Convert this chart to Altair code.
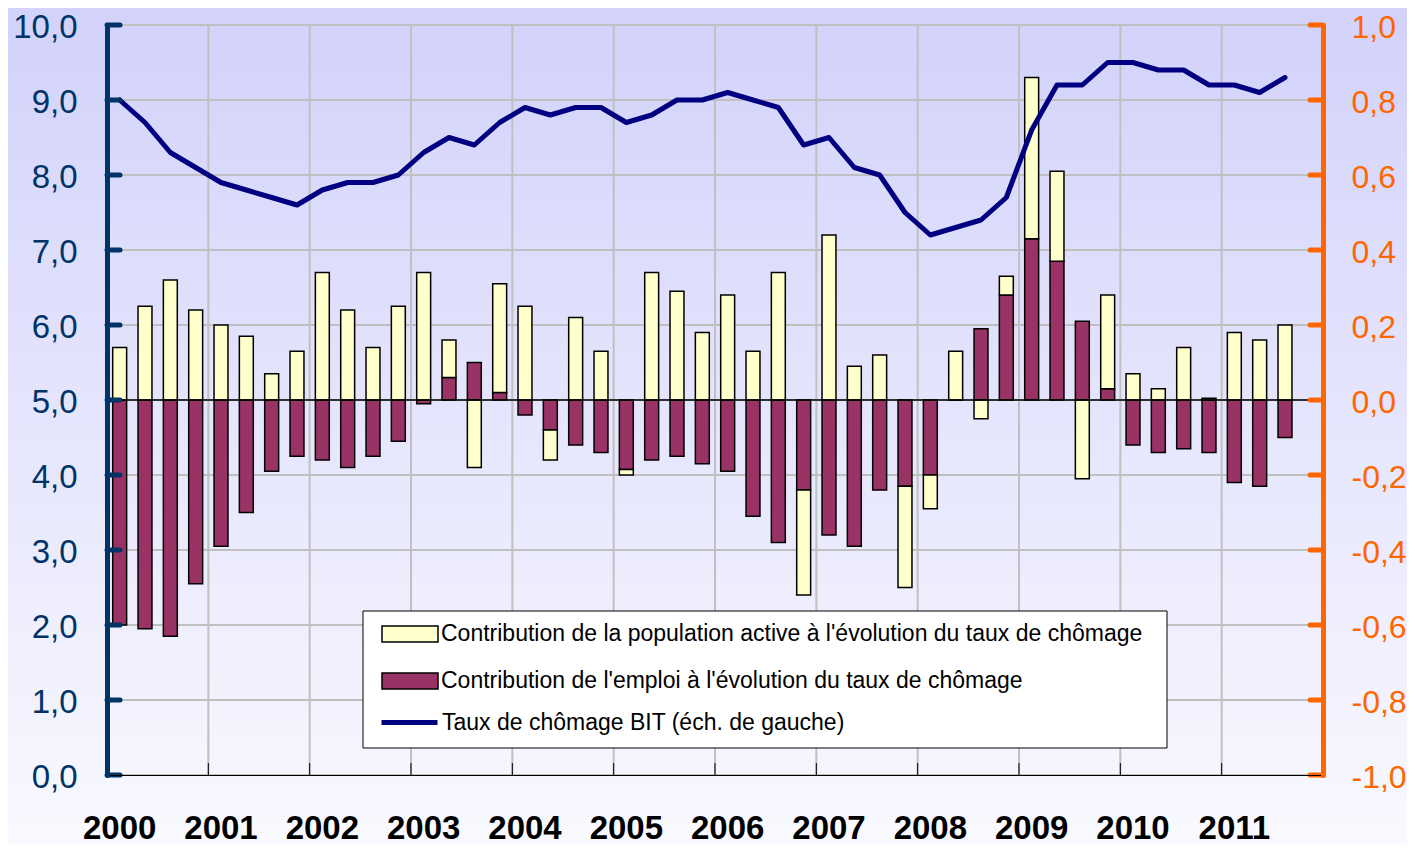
import altair as alt
import pandas as pd

# ---------------- data ----------------
years = list(range(2000, 2012))
quarter_slots = [f"{y}-T{q}" for y in years for q in (1, 2, 3, 4)]  # 48 slots (last one empty)
quarters = quarter_slots[:47]
year_starts = [f"{y}-T1" for y in years]

taux = [9.0, 8.7, 8.3, 8.1,
        7.9, 7.8, 7.7, 7.6,
        7.8, 7.9, 7.9, 8.0,
        8.3, 8.5, 8.4, 8.7,
        8.9, 8.8, 8.9, 8.9,
        8.7, 8.8, 9.0, 9.0,
        9.1, 9.0, 8.9, 8.4,
        8.5, 8.1, 8.0, 7.5,
        7.2, 7.3, 7.4, 7.7,
        8.6, 9.2, 9.2, 9.5,
        9.5, 9.4, 9.4, 9.2,
        9.2, 9.1, 9.3]

emploi = [-0.60, -0.61, -0.63, -0.49,
          -0.39, -0.30, -0.19, -0.15,
          -0.16, -0.18, -0.15, -0.11,
          -0.01, 0.06, 0.10, 0.02,
          -0.04, -0.08, -0.12, -0.14,
          -0.185, -0.16, -0.15, -0.17,
          -0.19, -0.31, -0.38, -0.24,
          -0.36, -0.39, -0.24, -0.23,
          -0.20, 0.00, 0.19, 0.28,
          0.43, 0.37, 0.21, 0.03,
          -0.12, -0.14, -0.13, -0.14,
          -0.22, -0.23, -0.10]

pop = [0.14, 0.25, 0.32, 0.24,
       0.20, 0.17, 0.07, 0.13,
       0.34, 0.24, 0.14, 0.25,
       0.34, 0.10, -0.18, 0.29,
       0.25, -0.08, 0.22, 0.13,
       -0.015, 0.34, 0.29, 0.18,
       0.28, 0.13, 0.34, -0.28,
       0.44, 0.09, 0.12, -0.27,
       -0.09, 0.13, -0.05, 0.05,
       0.43, 0.24, -0.21, 0.25,
       0.07, 0.03, 0.14, 0.005,
       0.18, 0.16, 0.20]

left_ticks = [0, 1, 2, 3, 4, 5, 6, 7, 8, 9, 10]
right_ticks = [-1.0, -0.8, -0.6, -0.4, -0.2, 0.0, 0.2, 0.4, 0.6, 0.8, 1.0]

LAB_POP = "Contribution de la population active à l'évolution du taux de chômage"
LAB_EMP = "Contribution de l'emploi à l'évolution du taux de chômage"
LAB_TAUX = "Taux de chômage BIT (éch. de gauche)"

# ---------------- layout / style ----------------
W, H = 1216, 750
PAD = {"left": 99, "right": 84, "top": 17, "bottom": 69}
ARIAL = "Liberation Sans, Arial, sans-serif"
NAVY_AX = "#003366"
ORANGE = "#FF6600"
GRID = "#C0C0C0"

df_bars = pd.DataFrame({
    "q": quarters * 2,
    "serie": [LAB_EMP] * len(quarters) + [LAB_POP] * len(quarters),
    "val": emploi + pop,
    "ordre": [0] * len(quarters) + [1] * len(quarters),
})
df_line = pd.DataFrame({"q": quarters, "taux": taux, "serie": [LAB_TAUX] * len(quarters)})
df_left = pd.DataFrame({"v": left_ticks})
df_right = pd.DataFrame({"v": right_ticks})
df_years = pd.DataFrame({"q": year_starts[1:]})
df_zero = pd.DataFrame({"z": [0.0]})
df_one = pd.DataFrame({"a": [0]})

x_scale = alt.Scale(domain=quarter_slots, paddingInner=0, paddingOuter=0)
y_left = alt.Scale(domain=[0, 10], nice=False, zero=False)
y_right = alt.Scale(domain=[-1, 1], nice=False, zero=False)
fill_scale = alt.Scale(domain=[LAB_POP, LAB_EMP], range=["#FFFFCC", "#993366"])
stroke_scale = alt.Scale(domain=[LAB_TAUX], range=["#000080"])

RECT = "M-1,-0.2857L1,-0.2857L1,0.2857L-1,0.2857Z"
legend_bars = alt.Legend(
    title=None, orient="none", legendX=274, legendY=580, direction="vertical",
    padding=0, rowPadding=6, labelOffset=2,
    labelFont=ARIAL, labelFontSize=23, labelColor="black", labelLimit=900,
    symbolType=RECT, symbolSize=3136, symbolStrokeColor="black", symbolStrokeWidth=1.5,
    zindex=1,
)
legend_line = alt.Legend(
    title=None, orient="none", legendX=272, legendY=667, direction="vertical",
    padding=0, labelOffset=2,
    labelFont=ARIAL, labelFontSize=23, labelColor="black", labelLimit=900,
    symbolType="stroke", symbolSize=3136, symbolStrokeWidth=5,
    zindex=1,
)

x_axis = alt.Axis(values=year_starts, labelExpr="substring(datum.value, 0, 4)",
                  grid=False, ticks=False, tickSize=0, domain=True, domainColor="black",
                  domainWidth=1, labelFont=ARIAL, labelFontSize=33, labelFontWeight="bold",
                  labelColor="black", labelPadding=63, labelBaseline="alphabetic",
                  labelAngle=0, title=None, zindex=1)

left_axis = alt.Axis(orient="left", values=left_ticks,
                     labelExpr="replace(format(datum.value, '.1f'), '.', ',')",
                     grid=False, ticks=False, tickSize=0, domainColor=NAVY_AX, domainWidth=5,
                     domainCap="round", labelFont=ARIAL, labelFontSize=33, labelOffset=2,
                     labelColor=NAVY_AX, labelPadding=30, title=None, zindex=1)

right_axis = alt.Axis(orient="right", values=right_ticks,
                      labelExpr="replace(replace(format(datum.value, '.1f'), '.', ','), '\u2212', '-')",
                      grid=False, ticks=False, tickSize=0, domainColor=ORANGE, domainWidth=5,
                      domainCap="round", labelFont=ARIAL, labelFontSize=32, labelOffset=2,
                      labelColor=ORANGE, labelPadding=28, title=None, zindex=1)


def X(**kw):
    return alt.X("q:N", scale=x_scale, axis=x_axis, **kw)


# ---------------- layers ----------------
grad = alt.LinearGradient(gradient="linear",
                          stops=[alt.GradientStop(color="#D2D2FB", offset=0),
                                 alt.GradientStop(color="#F9F9FF", offset=1)],
                          x1=0, x2=0, y1=0, y2=1)
bg = alt.Chart(df_one).mark_rect(fill=grad).encode(
    x=alt.value(-PAD["left"]), x2=alt.value(W + PAD["right"]),
    y=alt.value(-PAD["top"]), y2=alt.value(H + PAD["bottom"]))

vgrid = alt.Chart(df_years).mark_rule(color=GRID, strokeWidth=2).encode(
    x=X(bandPosition=0), y=alt.value(0), y2=alt.value(H))

hgrid = alt.Chart(df_left).mark_rule(color=GRID, strokeWidth=2).encode(
    y=alt.Y("v:Q", scale=y_left, axis=None),
    x=alt.value(0), x2=alt.value(W))

bars = alt.Chart(df_bars).mark_bar(stroke="black", strokeWidth=1.5,
                                   width=alt.RelativeBandSize(0.55)).encode(
    x=X(),
    y=alt.Y("val:Q", stack="zero", scale=y_right, axis=right_axis),
    fill=alt.Fill("serie:N", scale=fill_scale, legend=legend_bars),
    order=alt.Order("ordre:Q"),
)
zero = alt.Chart(df_zero).mark_rule(color="black", strokeWidth=1.5).encode(
    y=alt.Y("z:Q", scale=y_right, axis=right_axis))
rticks = alt.Chart(df_right).mark_rule(color=ORANGE, strokeWidth=5, strokeCap="round").encode(
    y=alt.Y("v:Q", scale=y_right, axis=right_axis),
    x=alt.value(W - 13), x2=alt.value(W))
right_group = alt.layer(bars, zero, rticks)

line = alt.Chart(df_line).mark_line(strokeWidth=5, strokeJoin="round", strokeCap="round").encode(
    x=X(),
    y=alt.Y("taux:Q", scale=y_left, axis=left_axis),
    stroke=alt.Stroke("serie:N", scale=stroke_scale, legend=legend_line),
)
lticks = alt.Chart(df_left).mark_rule(color=NAVY_AX, strokeWidth=5, strokeCap="round").encode(
    y=alt.Y("v:Q", scale=y_left, axis=left_axis),
    x=alt.value(0), x2=alt.value(13))
left_group = alt.layer(line, lticks)

xticks = alt.Chart(df_years).mark_rule(color="black", strokeWidth=1).encode(
    x=X(bandPosition=0), y=alt.value(H - 12), y2=alt.value(H))

legend_box = alt.Chart(df_one).mark_rect(fill="white", stroke="black", strokeWidth=1).encode(
    x=alt.value(256), x2=alt.value(1060), y=alt.value(586), y2=alt.value(723))

chart = alt.layer(bg, vgrid, hgrid, right_group, left_group, xticks, legend_box).resolve_scale(
    y="independent"
).properties(
    width=W, height=H, padding=PAD,
    autosize=alt.AutoSizeParams(type="none"),
    background="#E6E6FD",
).configure_view(strokeWidth=0)

chart.save("out.html", embed_options={"renderer": "svg", "actions": False})
